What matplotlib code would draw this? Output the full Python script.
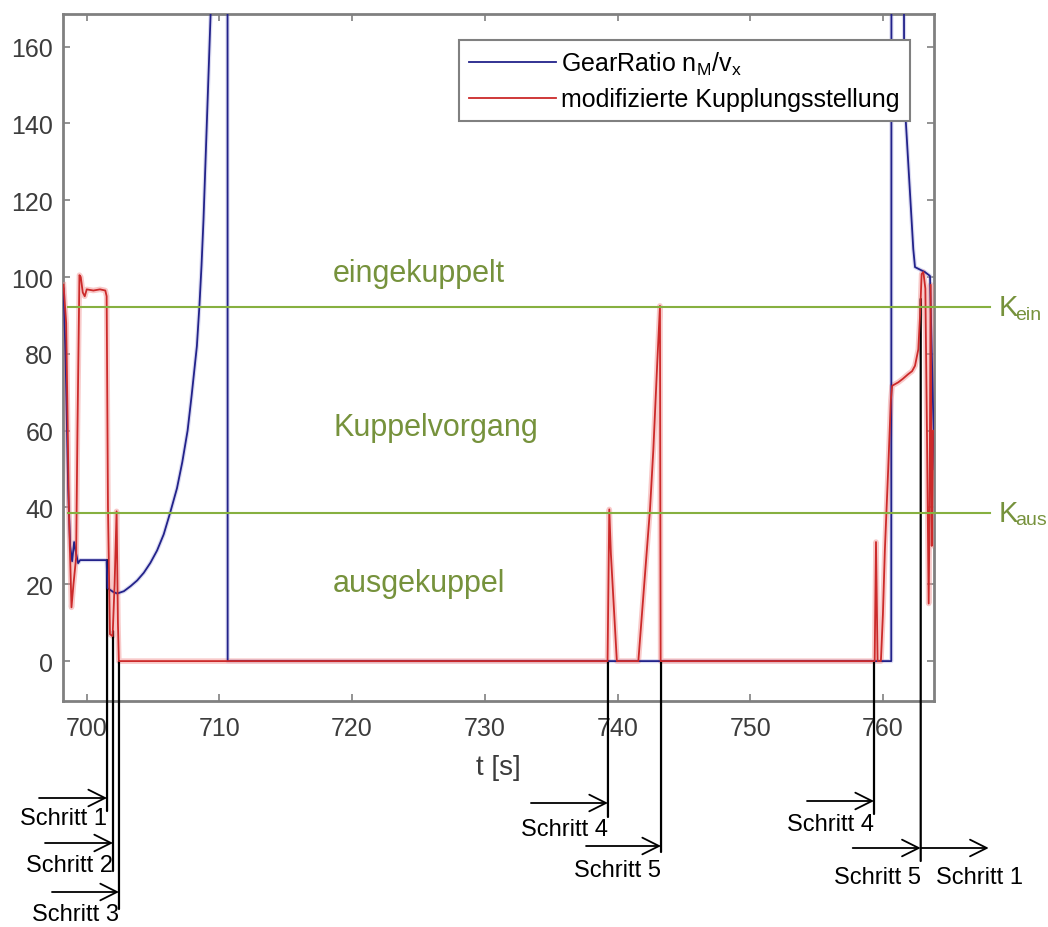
import matplotlib
matplotlib.use("Agg")
import matplotlib.pyplot as plt

plt.rcParams['font.family'] = ['Liberation Sans', 'DejaVu Sans']

# gear ratio n_M / v_x over time
gear_t = [698.25, 698.4, 698.6, 698.75, 698.9, 699.05, 699.2, 699.35, 699.5, 700.5, 701.5,
          701.56, 702.0, 702.3, 702.8, 703.3, 703.8, 704.3, 704.8, 705.3, 705.8, 706.3,
          706.8, 707.2, 707.6, 707.9, 708.1, 708.3, 708.5, 708.65, 708.8, 709.05, 709.2,
          709.35, 709.5, 710.6, 710.62, 760.63, 760.66,
          761.5, 761.6, 761.72, 762.29, 762.42, 763.17, 763.55, 763.68, 763.78, 763.9]
gear_v = [97, 80, 45, 30, 26, 31, 28, 25.5, 26.3, 26.3, 26.3,
          19, 18, 17.6, 18.2, 19.5, 21.0, 23.0, 25.6, 28.8, 33.0, 38.8,
          45, 51.8, 60, 69, 75.5, 82, 93, 103, 115, 140, 155,
          170, 190, 400, 0, 0, 400,
          300, 155, 141, 107.3, 102.6, 101.3, 100.3, 81, 66, 50]

# modified clutch position
clutch_t = [698.25, 698.45, 698.65, 698.85, 699.0, 699.2, 699.3, 699.45, 699.55, 699.7,
            699.85, 700.0, 700.5, 701.0, 701.4, 701.5, 701.6, 701.75, 701.95, 702.1,
            702.25, 702.35, 702.42, 739.25, 739.38, 739.5, 739.95, 741.57, 742.45, 742.7,
            743.0, 743.2, 743.25, 759.38, 759.48, 759.6, 759.85, 760.0, 760.15, 760.4,
            760.6, 760.7, 761.16, 761.5, 761.9, 762.2, 762.42, 762.67, 762.8, 762.92,
            763.05, 763.2, 763.32, 763.45, 763.52, 763.6, 763.68, 763.78, 763.9]
clutch_v = [98, 88, 40, 14, 20, 27, 60, 100.5, 100, 96,
            95, 96.8, 96.5, 96.8, 96.5, 95, 40, 7, 6.5, 20,
            39, 10, 0, 0, 39.5, 28, 0, 0, 39.6, 55,
            78, 92.5, 0, 0, 31, 0, 0, 12, 29, 50,
            68, 71.7, 72.6, 73.5, 74.7, 75.5, 76.9, 81.2, 90, 100.8,
            101.3, 97, 60, 15, 40, 98, 30, 60, 60]

# clutch thresholds
k_ein = 92.2
k_aus = 38.6

# phase labels (text, y value)
phase_labels = ['eingekuppelt', 'Kuppelvorgang', 'ausgekuppel']
phase_y = [101, 61, 20.3]

# step markers: time, top of line (data), bottom of line / arrow / text (figure px from top)
step_names = ['Schritt 1', 'Schritt 2', 'Schritt 3', 'Schritt 4', 'Schritt 5', 'Schritt 4', 'Schritt 5']
step_t = [701.53, 701.98, 702.43, 739.28, 743.28, 759.33, 762.85]
step_top = [26.3, 7.8, 0, 0, 0, 0, 94.3]
step_line_end = [812, 872, 910, 818, 853, 815, 862]
step_arrow_y = [799, 844, 893, 804, 847, 802, 849]
step_text_y = [819, 866, 915, 830, 871, 825, 878]
step_arrow_len = [68, 68, 67, 77, 75, 67, 68]

green_line = '#86b040'
green_text = '#76923c'
grey = '#808080'

fig = plt.figure(figsize=(10.48, 9.28), dpi=100)
fig.subplots_adjust(left=0.0601, right=0.8912, bottom=0.2435, top=0.9838)
ax = fig.add_subplot(111)

# soft halo under the curves
ax.plot(gear_t, gear_v, color='#9a9ad8', lw=3.0, alpha=0.35, zorder=2)
ax.plot(clutch_t, clutch_v, color='#f08a8a', lw=4.0, alpha=0.45, zorder=3)
l1, = ax.plot(gear_t, gear_v, color='#22228a', lw=1.3, zorder=4)
l2, = ax.plot(clutch_t, clutch_v, color='#cc2a2a', lw=1.3, zorder=5)

ax.set_xlim(698.21, 763.85)
ax.set_ylim(-10.4, 168.5)
ax.set_xticks(range(700, 761, 10))
ax.set_yticks(range(0, 161, 20))
ax.tick_params(direction='in', top=True, right=True, length=5, width=1.2,
               colors=grey, labelcolor='#3c3c3c', labelsize=18)
ax.tick_params(axis='x', pad=11)
ax.tick_params(axis='y', pad=7)
for s in ax.spines.values():
    s.set_color(grey)
    s.set_linewidth(2)
ax.set_xlabel('t [s]', fontsize=20, color='#3c3c3c', labelpad=10)

leg = ax.legend([l1, l2], [r'GearRatio n$_\mathregular{M}$/v$_\mathregular{x}$',
                           'modifizierte Kupplungsstellung'],
                loc='upper right', bbox_to_anchor=(0.972, 0.962), borderaxespad=0,
                fontsize=18, handlelength=3.5, handletextpad=0.2, labelspacing=0.4,
                borderpad=0.4, fancybox=False, edgecolor=grey, framealpha=1)
leg.get_frame().set_linewidth(1.5)
leg.set_zorder(10)

# threshold lines reaching past the right spine
for k, sub in [(k_ein, 'ein'), (k_aus, 'aus')]:
    ax.plot([698.6, 768.07], [k, k], color=green_line, lw=1.5, clip_on=False, zorder=6)
    ax.annotate('K', xy=(768.7, k), xycoords='data', fontsize=21, color=green_text,
                ha='left', va='center', annotation_clip=False)
    ax.annotate(sub, xy=(768.7, k), xycoords='data', xytext=(17, -7),
                textcoords='offset pixels', fontsize=14, color=green_text,
                ha='left', va='center', annotation_clip=False)

for txt, y in zip(phase_labels, phase_y):
    ax.text(718.56, y, txt, fontsize=22, color=green_text, ha='left', va='center')

# step markers below the axes
for name, t, top, yend, ya, yt, alen in zip(step_names, step_t, step_top, step_line_end,
                                           step_arrow_y, step_text_y, step_arrow_len):
    ax.annotate('', xy=(t, top), xycoords='data', xytext=(t, 928 - yend),
                textcoords=('data', 'figure pixels'),
                arrowprops=dict(arrowstyle='-', lw=1.6, color='black', shrinkA=0, shrinkB=0),
                annotation_clip=False)
    ax.annotate('', xy=(t, 928 - ya), xycoords=('data', 'figure pixels'),
                xytext=(-alen, 0), textcoords='offset pixels',
                arrowprops=dict(arrowstyle='->,head_length=1.2,head_width=0.6', lw=1.3,
                                color='black', shrinkA=0, shrinkB=0),
                annotation_clip=False)
    ax.annotate(name, xy=(t, 928 - yt), xycoords=('data', 'figure pixels'),
                ha='right', va='center', fontsize=17, annotation_clip=False)

# last step hands over to step 1 again
ax.annotate('', xy=(step_t[-1], 928 - step_arrow_y[-1]), xycoords=('data', 'figure pixels'),
            xytext=(68, 0), textcoords='offset pixels',
            arrowprops=dict(arrowstyle='<-,head_length=1.2,head_width=0.6', lw=1.3,
                            color='black', shrinkA=0, shrinkB=0),
            annotation_clip=False)
ax.annotate('Schritt 1', xy=(step_t[-1], 928 - step_text_y[-1]),
            xycoords=('data', 'figure pixels'), xytext=(15, 0), textcoords='offset pixels',
            ha='left', va='center', fontsize=17, annotation_clip=False)

fig.savefig('out.png', dpi=100)
